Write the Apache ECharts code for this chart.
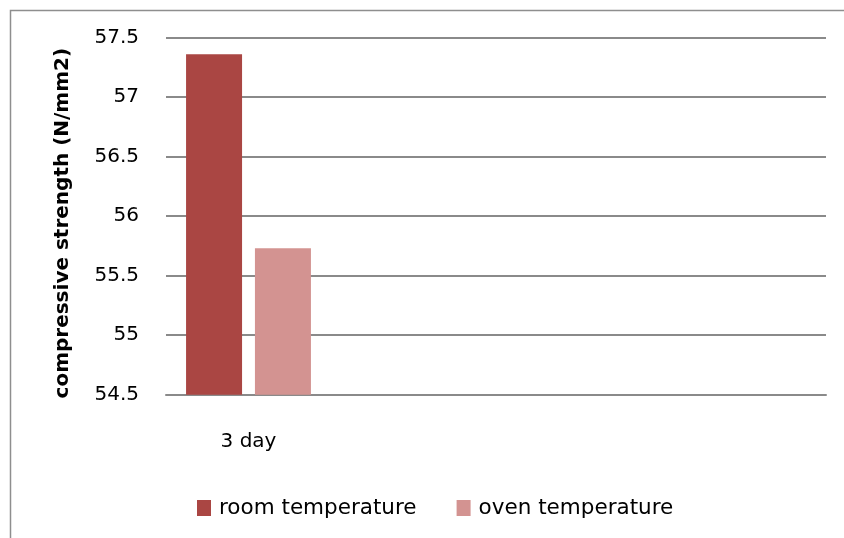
<!DOCTYPE html>
<html><head><meta charset="utf-8">
<script src="https://cdn.jsdelivr.net/npm/echarts@6/dist/echarts.min.js"></script>
<style>html,body{margin:0;padding:0;background:#fff}#c{width:844px;height:538px}</style>
</head><body><div id="c"></div>
<script>
var categories = ['3 day', '', '', ''];
var roomTemp = [57.36];
var ovenTemp = [55.73];
var seriesNames = ['room temperature', 'oven temperature'];
var yTicks = {min: 54.5, max: 57.5, interval: 0.5};
var yTitle = 'compressive strength (N/mm2)';

var chart = echarts.init(document.getElementById('c'), null, {renderer: 'canvas'});
var font = 'DejaVu Sans';
chart.setOption({
  animation: false,
  backgroundColor: '#fff',
  graphic: [{
    type: 'rect', silent: true, z: -1,
    shape: {x: 10.5, y: 10.5, width: 900, height: 600},
    style: {fill: 'none', stroke: '#8e8e8e', lineWidth: 1.5}
  }],
  grid: {left: 166, right: 18, top: 37.7, bottom: 143.3, containLabel: false},
  legend: {
    data: seriesNames,
    left: 192, top: 492,
    icon: 'rect', itemWidth: 14, itemHeight: 16, itemGap: 40,
    textStyle: {fontFamily: font, fontSize: 21.5, color: '#000', padding: [0, 0, 0, 3]}
  },
  xAxis: {
    type: 'category', data: categories,
    axisLine: {show: true, lineStyle: {color: '#8a8a8a', width: 2}},
    axisTick: {show: false},
    axisLabel: {fontFamily: font, fontSize: 20, color: '#000', margin: 37}
  },
  yAxis: {
    type: 'value', min: yTicks.min, max: yTicks.max, interval: yTicks.interval,
    name: yTitle, nameLocation: 'middle', nameGap: 93, nameRotate: 90,
    nameTextStyle: {fontFamily: font, fontSize: 20, fontWeight: 'bold', color: '#000', padding: [0, 14, 0, 0]},
    axisLine: {show: false}, axisTick: {show: false},
    axisLabel: {fontFamily: font, fontSize: 20, color: '#000', margin: 27},
    splitLine: {show: true, lineStyle: {color: '#8a8a8a', width: 2}}
  },
  series: [
    {name: seriesNames[0], type: 'bar', data: roomTemp, barWidth: 56, barGap: '23%',
     itemStyle: {color: '#AA4643'}},
    {name: seriesNames[1], type: 'bar', data: ovenTemp, barWidth: 56,
     itemStyle: {color: '#D39391'}}
  ]
});
</script></body></html>
